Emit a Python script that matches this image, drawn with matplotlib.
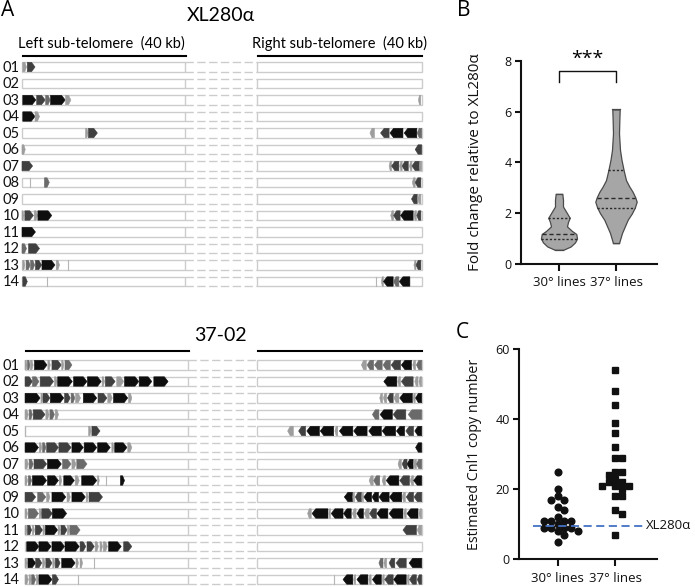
import matplotlib
matplotlib.use("Agg")
import matplotlib.pyplot as plt
from matplotlib.patches import Polygon, Rectangle
import numpy as np

# ---------------- data ----------------
row_names = ["%02d" % i for i in range(1, 15)]

# genes: (start_kb, end_kb, shade) measured from the telomere end
# shade: k black, d dark grey, m mid grey, l light grey, t thin tick
xl_left = [
    [(0.2, 1.1, 'l'), (1.3, 3.2, 'd')],
    [],
    [(0.2, 3.4, 'k'), (3.6, 5.7, 'd'), (5.8, 6.9, 'm'), (7.0, 10.6, 'k'), (10.7, 12.0, 'l')],
    [(0.2, 3.2, 'k'), (3.2, 4.3, 'l')],
    [(15.6, 16.2, 'l'), (16.3, 18.5, 'd')],
    [(0.0, 0.8, 'l')],
    [(0.0, 2.6, 'd')],
    [(2.0, 2.0, 't'), (5.5, 6.7, 'm')],
    [],
    [(0.0, 0.5, 'l'), (0.7, 2.8, 'd'), (3.0, 3.8, 'l'), (3.9, 7.3, 'k')],
    [(0.0, 3.3, 'k')],
    [(0.0, 1.1, 'm'), (1.6, 4.3, 'd')],
    [(0.2, 0.7, 'l'), (1.0, 2.0, 'm'), (2.1, 3.1, 'm'), (3.3, 4.8, 'd'), (4.9, 8.1, 'k'),
     (8.4, 9.2, 'l'), (11.4, 11.4, 't')],
    [(0.2, 1.3, 'd'), (6.2, 6.2, 't')],
]
xl_right = [
    [],
    [],
    [(0.25, 0.8, 'l')],
    [],
    [(11.6, 12.7, 'l'), (8.0, 10.1, 'd'), (4.6, 7.8, 'k'), (1.2, 4.3, 'k'), (0.0, 1.1, 'm')],
    [(0.0, 1.6, 'd')],
    [(7.4, 8.0, 'l'), (5.6, 7.4, 'd'), (4.8, 5.4, 'l'), (3.3, 4.8, 'd'), (2.4, 3.0, 'l'),
     (0.6, 2.4, 'd'), (0.0, 0.6, 'l')],
    [(1.6, 2.3, 'l'), (0.2, 1.6, 'd')],
    [(1.1, 2.5, 'd'), (0.2, 1.0, 'l')],
    [(6.9, 7.6, 'l'), (5.3, 6.9, 'd'), (2.1, 5.2, 'k'), (1.3, 1.9, 'l'), (0.2, 1.2, 'd')],
    [],
    [],
    [(1.4, 1.9, 'l'), (0.2, 1.4, 'd')],
    [(11.3, 11.3, 't'), (9.4, 9.9, 'l'), (7.0, 9.4, 'k'), (5.6, 6.9, 'm'), (2.9, 5.5, 'k')],
]
s37_left = [
    [(0, 0.5, 'l'), (0.6, 1.2, 'm'), (1.3, 2.0, 'l'), (2.3, 5.4, 'k'), (5.6, 6.2, 'l'),
     (6.6, 8.9, 'd'), (9.0, 9.5, 'l'), (9.8, 11.5, 'm')],
    [(0, 1.8, 'd'), (1.8, 3.4, 'm'), (3.7, 7.0, 'd'), (7.2, 7.9, 'l'), (8.0, 11.6, 'k'),
     (11.9, 15.2, 'k'), (15.3, 18.7, 'k'), (18.9, 19.5, 'l'), (19.7, 22.1, 'd'),
     (22.5, 24.2, 'l'), (24.4, 27.9, 'k'), (28.0, 31.1, 'k'), (31.6, 35.1, 'k')],
    [(0, 3.7, 'k'), (3.9, 4.3, 'l'), (4.4, 6.1, 'd'), (6.2, 9.5, 'k'), (9.7, 11.1, 'd'),
     (11.3, 12.2, 'm'), (12.4, 13.6, 'l'), (14.3, 17.6, 'k'), (17.9, 20.1, 'd'),
     (20.3, 21.4, 'l'), (21.7, 25.2, 'k'), (25.4, 26.2, 'l')],
    [(0, 0.8, 'l'), (1.0, 1.8, 'm'), (2.0, 4.9, 'd'), (5.1, 5.9, 'l'), (6.1, 7.2, 'm'),
     (7.4, 8.2, 'l')],
    [(0, 0, 't'), (15.6, 16.2, 'l'), (16.4, 18.4, 'd')],
    [(0, 3.3, 'k'), (3.5, 4.1, 'l'), (4.3, 5.1, 'm'), (5.3, 8.2, 'd'), (8.3, 11.3, 'd'),
     (11.5, 14.3, 'k'), (14.5, 17.6, 'k'), (17.8, 20.9, 'k'), (21.3, 21.8, 'l'),
     (22.0, 25.0, 'k'), (25.2, 26.2, 'l')],
    [(0, 0.8, 'l'), (1.0, 2.0, 'm'), (2.2, 5.3, 'd'), (5.5, 8.9, 'k'), (9.2, 11.3, 'm'),
     (11.5, 12.5, 'l'), (12.7, 15.2, 'm')],
    [(0, 0.6, 'l'), (0.8, 1.6, 'm'), (1.8, 5.3, 'k'), (5.5, 8.2, 'k'), (8.4, 9.0, 'l'),
     (9.5, 12.1, 'k'), (12.3, 13.3, 'l'), (13.9, 17.6, 'k'), (17.8, 18.2, 'l'),
     (19.8, 19.8, 't'), (23.4, 24.4, 'k')],
    [(0, 2.6, 'd'), (3.1, 5.1, 'm'), (5.3, 6.1, 'l'), (6.6, 10.0, 'k'), (10.3, 11.1, 'l'),
     (11.5, 14.8, 'k'), (15.0, 15.5, 'l'), (15.7, 19.0, 'd')],
    [(0, 0.6, 'l'), (0.8, 3.3, 'm'), (3.5, 4.0, 'l'), (4.1, 6.7, 'd'), (6.7, 10.2, 'k')],
    [(0, 0.5, 'l'), (0.6, 1.6, 'd'), (1.8, 2.3, 'l'), (2.5, 4.3, 'd'), (4.4, 4.9, 'l'),
     (5.0, 8.0, 'k'), (8.1, 8.6, 'l'), (8.8, 10.3, 'd'), (10.4, 10.9, 'l'), (11.0, 13.5, 'm')],
    [(0.4, 3.4, 'k'), (3.4, 6.4, 'k'), (6.6, 9.7, 'k'), (9.8, 13.3, 'k'), (13.5, 14.9, 'd'),
     (15.2, 17.0, 'd'), (17.2, 18.0, 'l'), (18.4, 19.0, 'l'), (19.2, 20.2, 'l'),
     (20.5, 23.6, 'k'), (24.2, 26.2, 'd')],
    [(0, 0.5, 'l'), (0.7, 2.6, 'k'), (2.6, 4.1, 'd'), (4.3, 4.9, 'l'), (5.1, 6.6, 'd'),
     (6.8, 7.3, 'l'), (7.4, 8.6, 'd'), (9.0, 12.3, 'k'), (12.5, 13.1, 'l'), (13.5, 14.1, 'l'),
     (16.8, 16.8, 't')],
    [(0, 0.8, 'l'), (1.0, 1.5, 'l'), (1.6, 2.6, 'm'), (2.8, 3.3, 'l'), (3.4, 6.6, 'k'),
     (6.7, 8.2, 'd'), (12.9, 12.9, 't')],
]
s37_right = [
    [(13.6, 14.8, 'l'), (11.8, 13.4, 'm'), (9.7, 11.6, 'm'), (7.7, 9.5, 'm'), (5.2, 7.5, 'd'),
     (2.5, 5.0, 'k'), (1.5, 2.2, 'l'), (0, 1.3, 'm')],
    [(6.1, 9.3, 'k'), (5.2, 5.9, 'l'), (2.1, 5.0, 'd'), (0.9, 1.7, 'l'), (0, 0.7, 'l')],
    [(9.6, 10.3, 'l'), (8.6, 9.4, 'l'), (7.0, 8.4, 'd'), (5.6, 6.8, 'l'), (2.3, 5.4, 'k'),
     (1.6, 2.1, 'l'), (0, 1.5, 'k')],
    [(10.5, 12.1, 'm'), (7.2, 10.2, 'k'), (3.9, 7.0, 'd'), (0, 3.3, 'm')],
    [(31.5, 32.9, 'l'), (28.5, 30.2, 'd'), (25.1, 28.2, 'k'), (21.6, 24.9, 'k'),
     (20.6, 21.3, 'l'), (16.9, 20.2, 'k'), (13.4, 16.7, 'k'), (9.9, 13.0, 'k'),
     (6.4, 9.7, 'k'), (4.2, 6.2, 'k'), (2.0, 3.9, 'd'), (0, 1.7, 'k')],
    [(0, 1.5, 'k')],
    [(5.0, 5.8, 'l'), (3.6, 4.8, 'd'), (2.1, 3.6, 'k'), (1.3, 2.0, 'l'), (0, 1.3, 'm')],
    [(11.9, 12.9, 'l'), (10.3, 11.8, 'm'), (8.9, 9.7, 'l'), (5.6, 8.7, 'k'), (3.0, 5.4, 'd'),
     (2.0, 2.8, 'l'), (0, 2.0, 'k')],
    [(17.0, 19.0, 'k'), (16.5, 16.9, 'l'), (14.8, 16.3, 'd'), (14.3, 14.7, 'l'),
     (12.3, 14.2, 'k'), (10.6, 12.2, 'k'), (8.0, 10.5, 'k'), (4.9, 7.9, 'k'),
     (4.0, 4.8, 'l'), (2.0, 3.8, 'd'), (0, 1.9, 'd')],
    [(27.1, 28.0, 'l'), (23.0, 26.9, 'k'), (22.4, 22.8, 'l'), (19.3, 22.2, 'k'),
     (17.3, 19.2, 'k'), (16.1, 17.0, 'l'), (14.3, 15.9, 'k'), (12.9, 14.1, 'l'),
     (11.1, 12.8, 'd'), (8.3, 11.0, 'k'), (4.6, 8.0, 'k'), (3.8, 4.4, 'l'),
     (0.9, 3.6, 'k'), (0, 0.7, 'l')],
    [(1.3, 4.6, 'd'), (0, 1.1, 'l')],
    [],
    [(9.5, 10.5, 'm'), (8.6, 9.3, 'l'), (6.6, 8.0, 'd'), (3.8, 6.3, 'd'), (0, 3.1, 'k')],
    [(21.4, 21.4, 't'), (16.9, 19.3, 'k'), (16.2, 16.7, 'l'), (13.2, 15.9, 'k'),
     (12.4, 13.0, 'l'), (9.9, 12.1, 'k'), (9.2, 9.7, 'l'), (7.0, 9.1, 'd'),
     (3.8, 6.9, 'k'), (3.1, 3.6, 'l'), (1.3, 3.0, 'd'), (0, 1.1, 'd')],
]

# panel B: violin outlines (y, half-width in px) and quartiles
groups = ["30° lines", "37° lines"]
v30_y = [0.56, 0.69, 0.85, 1.0, 1.18, 1.3, 1.48, 1.65, 1.82, 2.0, 2.26, 2.53, 2.76]
v30_w = [4.3, 11.7, 16.0, 18.0, 17.3, 13.0, 8.0, 9.0, 10.7, 8.0, 4.0, 4.0, 3.3]
v37_y = [0.82, 1.22, 1.74, 2.0, 2.24, 2.45, 2.62, 2.85, 3.05, 3.3, 3.68, 4.1, 4.49, 5.14, 5.6, 6.08]
v37_w = [3.0, 6.0, 11.7, 16.0, 19.0, 20.7, 19.3, 16.5, 13.3, 10.0, 7.7, 5.5, 4.0, 3.0, 3.3, 3.7]
q30 = [1.0, 1.18, 1.82]
q37 = [2.22, 2.6, 3.68]

# panel C: estimated copy numbers
c30 = [25, 20, 18, 17, 17, 15, 14, 12, 11, 11, 11, 11, 10, 9, 9, 9, 9, 8, 8, 7, 5]
c37 = [54, 48, 44, 39, 36, 32, 29, 29, 25, 25, 24, 23, 22, 22, 21, 21, 21, 20, 18, 18, 14, 13, 7]
xl280_copy = 9.5

shades = {'k': '#0e0e0e', 'd': '#404040', 'm': '#6a6a6a', 'l': '#9d9d9d', 't': '#b5b5b5'}

fig = plt.figure(figsize=(6.95, 5.87), dpi=100)
W, H = 695.0, 587.0
fontA = ['Lato', 'DejaVu Sans']
fontB = ['Open Sans', 'DejaVu Sans']

# ---------------- panel A ----------------
pxkb = 4.075          # pixels per kb
x0px = 22.0
rowpx = 16.5
axA = fig.add_axes([0, 0, 440 / W, 1])
axA.set_xlim(-x0px / pxkb, (440 - x0px) / pxkb)
axA.set_ylim((H - 67) / rowpx + 1, -67 / rowpx + 1)
axA.axis('off')

right_end = (421.7 - x0px) / pxkb
right_start = (257 - x0px) / pxkb
bh = 0.6


def gene(x0, x1, y, d, c):
    if c == 't':
        axA.plot([x0, x0], [y - bh / 2, y + bh / 2], color=shades['t'], lw=0.8, zorder=3)
        return
    h = bh * 0.95
    L = x1 - x0
    tip = min(0.9, 0.45 * L)
    if d > 0:
        pts = [(x0, y - h / 2), (x1 - tip, y - h / 2), (x1, y), (x1 - tip, y + h / 2), (x0, y + h / 2)]
    else:
        pts = [(x1, y - h / 2), (x0 + tip, y - h / 2), (x0, y), (x0 + tip, y + h / 2), (x1, y + h / 2)]
    axA.add_patch(Polygon(pts, closed=True, fc=shades[c], ec=shades[c], lw=0.4, zorder=3))


def strain_block(left, right, row0, shift, title, title_y, ul_off, show_heads):
    for i in range(14):
        y = row0 + i
        axA.add_patch(Rectangle((shift, y - bh / 2), 40, bh, fc='white', ec='#cccccc', lw=1, zorder=1))
        axA.add_patch(Rectangle((right_start, y - bh / 2), right_end - right_start, bh,
                                fc='white', ec='#cccccc', lw=1, zorder=1))
        for yy in (y - bh / 2, y + bh / 2):
            axA.plot([shift + 40, right_start], [yy, yy], color='#cccccc', lw=1,
                     ls=(0, (6, 2.5)), zorder=1)
        axA.text(-0.6, y + 0.05, row_names[i], ha='right', va='center', fontsize=10.5,
                 family=fontA, color='#111111')
        for a, b, c in left[i]:
            gene(shift + a, shift + b, y, 1, c)
        for a, b, c in right[i]:
            gene(right_end - b, right_end - a, y, -1, c)
    ul = row0 - ul_off
    axA.plot([shift + 0.3, shift + 40.2], [ul, ul], color='black', lw=1.5)
    axA.plot([right_start + 0.3, right_end], [ul, ul], color='black', lw=1.5)
    axA.text(48.7, title_y, title, ha='center', va='center', fontsize=14, family=fontA)
    if show_heads:
        axA.text(19.5, row0 - 1.45, "Left sub-telomere  (40 kb)", ha='center', va='center',
                 fontsize=10.5, family=fontA)
        axA.text(77.8, row0 - 1.45, "Right sub-telomere  (40 kb)", ha='center', va='center',
                 fontsize=10.5, family=fontA)


strain_block(xl_left, xl_right, 1, 0.0, "XL280α", -2.15, 0.67, True)
strain_block(s37_left, s37_right, 1 + (365 - 67) / rowpx, 0.75, "37-02",
             1 + (335 - 67) / rowpx, 0.85, False)

# ---------------- panels B and C ----------------
xpx = 57.0  # pixels per x unit
xlim = (1 - 38 / xpx, 2 + 41 / xpx)


def style(ax):
    for s in ['top', 'right']:
        ax.spines[s].set_visible(False)
    for s in ['left', 'bottom']:
        ax.spines[s].set_linewidth(1.5)
        ax.spines[s].set_color('#111111')
    ax.tick_params(axis='y', length=4.5, width=1.5, labelsize=9, pad=2, colors='#111111')
    ax.tick_params(axis='x', length=5, width=1.5, labelsize=9.5, pad=4, colors='#111111')
    ax.set_xlim(*xlim)
    ax.set_xticks([1, 2])
    ax.set_xticklabels(groups)
    for lab in ax.get_xticklabels() + ax.get_yticklabels():
        lab.set_family(fontB)


axB = fig.add_axes([521 / W, 1 - 264 / H, 136 / W, (264 - 60.7) / H])
style(axB)
axB.set_ylim(0, 8)
axB.set_yticks([0, 2, 4, 6, 8])
axB.set_ylabel("Fold change relative to XL280α", fontsize=11, family=fontB, color='#111111')
axB.yaxis.set_label_coords(-0.28, 0.5)

for xc, vy, vw, qs in [(1, v30_y, v30_w, q30), (2, v37_y, v37_w, q37)]:
    vy = np.array(vy)
    hw = np.array(vw) / xpx
    axB.fill_betweenx(vy, xc - hw, xc + hw, fc='#a6a6a6', ec='#4a4a4a', lw=0.9, zorder=2)
    axB.plot([xc - hw[0], xc + hw[0]], [vy[0], vy[0]], color='#4a4a4a', lw=0.9, zorder=3)
    axB.plot([xc - hw[-1], xc + hw[-1]], [vy[-1], vy[-1]], color='#4a4a4a', lw=0.9, zorder=3)
    for j, q in enumerate(qs):
        w = np.interp(q, vy, hw)
        ls = (0, (3, 2)) if j == 1 else (0, (1.6, 1.4))
        axB.plot([xc - w, xc + w], [q, q], color='#2a2a2a', lw=1.0, ls=ls, zorder=4)

axB.plot([1, 1, 2, 2], [7.17, 7.6, 7.6, 7.17], color='#111111', lw=1.0, clip_on=False)
axB.text(1.5, 7.72, "***", ha='center', va='bottom', fontsize=14, family=fontB)

axC = fig.add_axes([519 / W, 1 - 559 / H, 138 / W, (559 - 349.3) / H])
style(axC)
axC.set_ylim(0, 60)
axC.set_yticks([0, 20, 40, 60])
axC.set_ylabel("Estimated Cnl1 copy number", fontsize=10.3, family=fontB, color='#111111')
axC.yaxis.set_label_coords(-0.27, 0.5)

ypx = (559 - 349.3) / 60.0
msize_px = 6.6


def swarm(vals):
    placed = []
    offs = []
    cands = [0.0]
    for k in range(1, 12):
        cands += [k * msize_px / 2, -k * msize_px / 2]
    for v in vals:
        y = v * ypx
        for c in cands:
            ok = all(abs(c - px) >= msize_px * 0.98 or abs(y - py) >= msize_px * 0.98
                     for px, py in placed)
            if ok:
                placed.append((c, y))
                offs.append(c / xpx)
                break
    return np.array(offs)


axC.plot(1 + swarm(c30), c30, 'o', ms=4.8, color='#111111', ls='none', clip_on=False)
axC.plot(2 + swarm(c37), c37, 's', ms=4.6, color='#111111', ls='none', clip_on=False)
axC.plot([1 - 0.433, 2 + 0.49], [xl280_copy, xl280_copy], color='#4472c4', lw=1.3,
         ls=(0, (4.5, 2.5)), zorder=5)
axC.text(2 + 0.52, xl280_copy, "XL280α", ha='left', va='center', fontsize=9.5,
         family=fontB, color='#111111', clip_on=False)

# panel letters
fig.text(1 / W, 1 - 10 / H, "A", fontsize=15, family=fontB, va='center', ha='left')
fig.text(457 / W, 1 - 11 / H, "B", fontsize=15, family=fontB, va='center', ha='left')
fig.text(456 / W, 1 - 333 / H, "C", fontsize=15, family=fontB, va='center', ha='left')

fig.savefig("out.png", dpi=100)
